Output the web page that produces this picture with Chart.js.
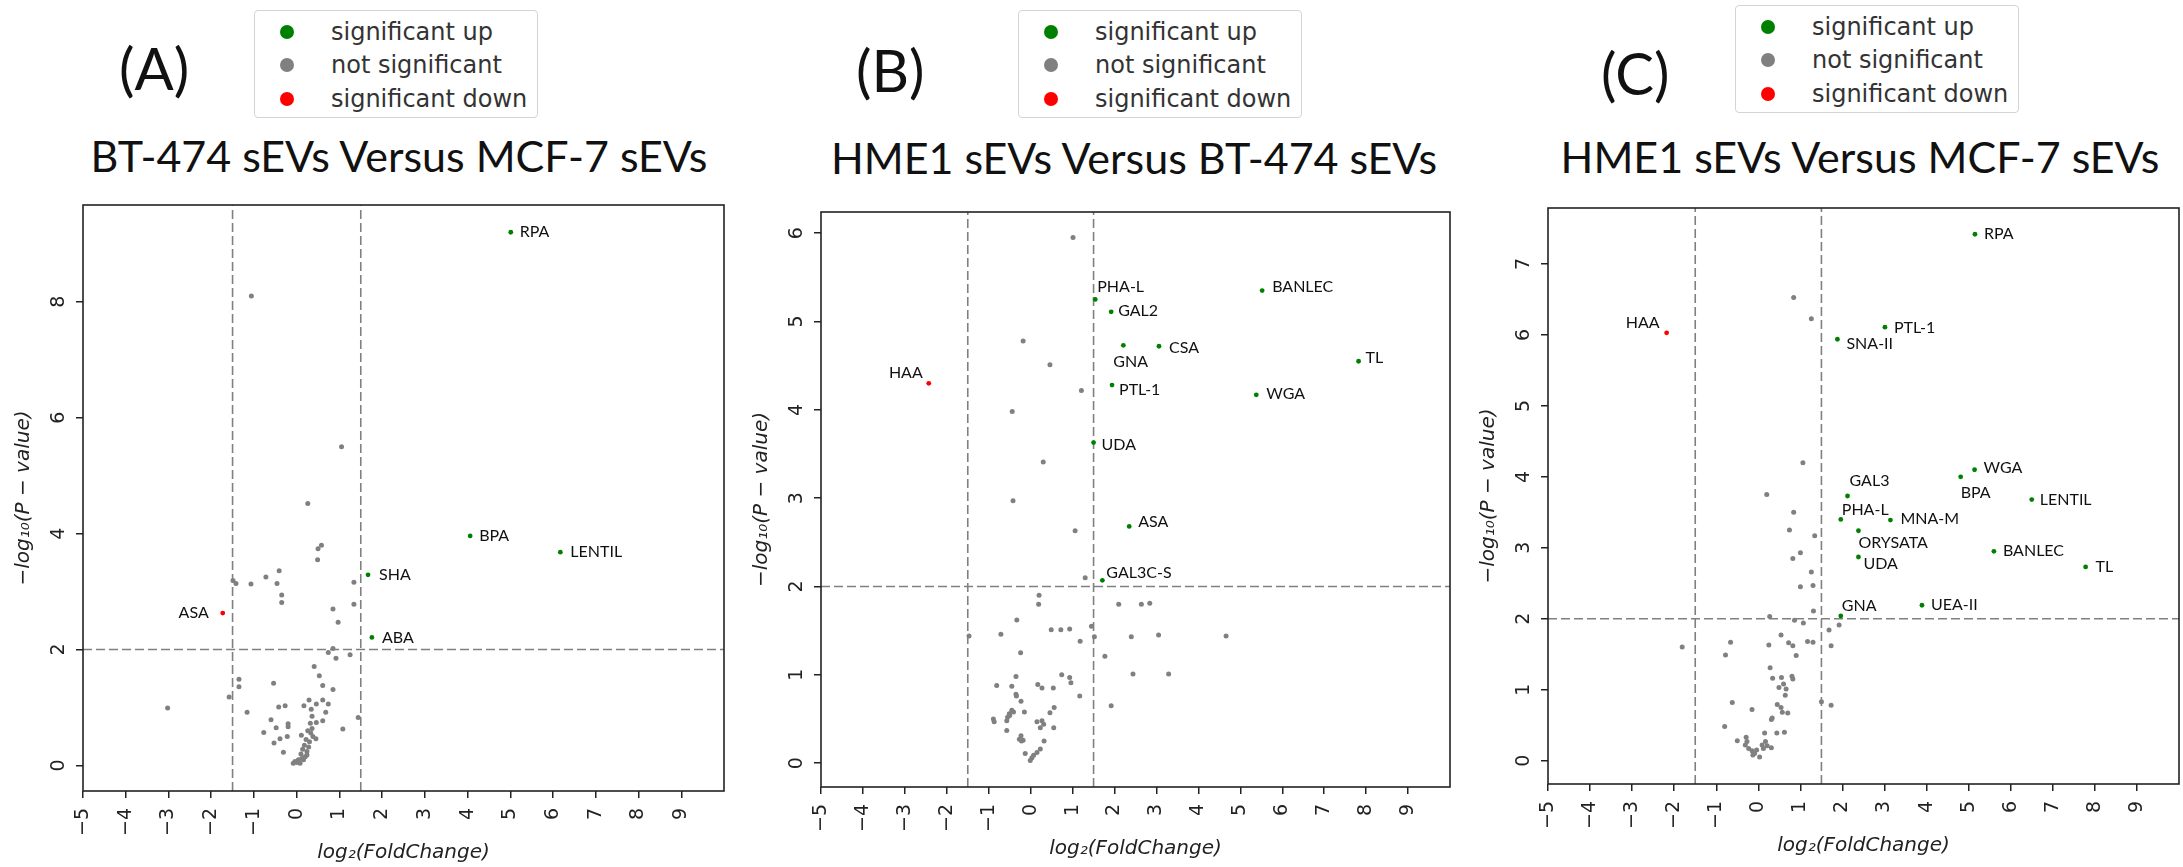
<!DOCTYPE html>
<html>
<head>
<meta charset="utf-8">
<script src="https://cdn.jsdelivr.net/npm/chart.js@4.4.0/dist/chart.umd.min.js"></script>
<style>
  body { margin: 0; background: #fff; width: 2183px; height: 867px; overflow: hidden; position: relative; font-family: Lato, sans-serif; }
  .tag { position: absolute; font-size: 58px; line-height: 1.2; color: #111; }
  .title { position: absolute; font-size: 43px; line-height: 1.2; color: #111; white-space: nowrap; transform: translateX(-50%); }
  .legend { position: absolute; width: 282px; height: 106px; border: 1px solid #d4d4d4; border-radius: 4px; background: #fff;
            font-family: 'DejaVu Sans', sans-serif; font-size: 24px; color: #333; }
  .legend .row { position: absolute; left: 0; right: 0; height: 0; }
  .legend .dot { position: absolute; left: 25px; top: -7px; width: 14px; height: 14px; border-radius: 50%; }
  .legend .txt { position: absolute; left: 76px; top: -14px; line-height: 28px; white-space: nowrap; }
  .wrap { position: absolute; }
</style>
</head>
<body>

<div class="tag" style="left:119px;top:33px">(A)</div>
<div class="tag" style="left:856px;top:35px">(B)</div>
<div class="tag" style="left:1601px;top:38px">(C)</div>

<div class="title" style="left:399px;top:130px">BT-474 sEVs Versus MCF-7 sEVs</div>
<div class="title" style="left:1134px;top:132px">HME1 sEVs Versus BT-474 sEVs</div>
<div class="title" style="left:1860px;top:131px">HME1 sEVs Versus MCF-7 sEVs</div>

<div class="legend" style="left:254px;top:10px"></div>
<div class="legend" style="left:1018px;top:10px"></div>
<div class="legend" style="left:1735px;top:5px"></div>

<div class="wrap" style="left:0px;top:195px"><canvas id="chartA" width="740" height="672"></canvas></div>
<div class="wrap" style="left:740px;top:195px"><canvas id="chartB" width="725" height="672"></canvas></div>
<div class="wrap" style="left:1470px;top:195px"><canvas id="chartC" width="713" height="672"></canvas></div>

<script>
// ---- données ----
const xTicks = [-5, -4, -3, -2, -1, 0, 1, 2, 3, 4, 5, 6, 7, 8, 9];
const fcCuts = [-1.5, 1.5];
const pCut = 2;
const legendLabels = ['significant up', 'not significant', 'significant down'];

// (A) BT-474 vs MCF-7
const aTicksY = [0, 2, 4, 6, 8];
const aUpNames = ['RPA', 'BPA', 'LENTIL', 'SHA', 'ABA'];
const aUpX = [5.01, 4.06, 6.17, 1.67, 1.76];
const aUpY = [9.20, 3.96, 3.68, 3.29, 2.21];
const aDownNames = ['ASA'];
const aDownX = [-1.73];
const aDownY = [2.63];
const aGrayX = [-1.06, 1.05, 0.26, 0.58, 0.50, 0.49, -0.41, -0.72, -0.46, -1.07, -1.49, -1.42, 1.34,
  -0.35, -0.35, 1.34, 0.85, 0.97, 0.85, 0.74, 0.92, 1.25, 0.41, 0.53, 0.61, 0.85,
  -1.35, -1.35, -0.54, -1.58, -3.02, -1.16, -0.42, -0.27, 0.29, 0.17, 0.46, 0.61, 0.74, 0.34, 0.68,
  -0.60, -0.48, -0.20, -0.20, -0.77, -0.53, -0.39, -0.22, -0.31, 0.11, 1.08, 1.44, 0.46, 0.61, 0.45,
  0.36, 0.32, 0.36, 0.33, 0.38, 0.30, 0.28, 0.24, 0.20, 0.12, 0.04, -0.04, 0.08, 0.16, 0.24,
  0.26, 0.22, 0.18, 0.10, 0.00, -0.08, 0.14];
const aGrayY = [8.10, 5.50, 4.52, 3.80, 3.74, 3.55, 3.36, 3.25, 3.14, 3.13, 3.19, 3.14, 3.16,
  2.94, 2.81, 2.78, 2.70, 2.47, 2.02, 1.95, 1.85, 1.91, 1.71, 1.55, 1.38, 1.31,
  1.49, 1.36, 1.42, 1.18, 0.99, 0.92, 1.01, 1.03, 1.13, 1.03, 1.06, 1.13, 1.06, 0.97, 0.92,
  0.79, 0.65, 0.72, 0.67, 0.57, 0.39, 0.46, 0.50, 0.23, 0.52, 0.63, 0.83, 0.74, 0.77, 0.46,
  0.85, 0.73, 0.64, 0.56, 0.50, 0.41, 0.32, 0.24, 0.15, 0.12, 0.10, 0.07, 0.04, 0.10, 0.18,
  0.60, 0.45, 0.35, 0.20, 0.05, 0.04, 0.28];

// (B) HME1 vs BT-474
const bTicksY = [0, 1, 2, 3, 4, 5, 6];
const bUpNames = ['PHA-L', 'GAL2', 'BANLEC', 'GNA', 'CSA', 'TL', 'PTL-1', 'WGA', 'UDA', 'ASA', 'GAL3C-S'];
const bUpX = [1.54, 1.92, 5.52, 2.21, 3.06, 7.82, 1.94, 5.38, 1.50, 2.35, 1.71];
const bUpY = [5.25, 5.11, 5.35, 4.73, 4.72, 4.55, 4.28, 4.17, 3.63, 2.68, 2.07];
const bDownNames = ['HAA'];
const bDownX = [-2.43];
const bDownY = [4.30];
const bGrayX = [1.01, -0.18, 0.46, 1.21, -0.44, 0.30, -0.42, 1.06,
  1.30, 0.20, 0.19, 2.10, 2.64, 2.84, -0.33, -0.71, -1.47, 0.49, 0.72, 0.93, 1.45, 1.52, 1.18, 2.40, 3.05, 4.66,
  -0.24, 1.77, 0.74, 0.93, 0.96, 2.44, 3.29, -0.35, -0.81, -0.45, -0.35, -0.34, 0.17, 0.27, 0.54, -0.23, 1.17, 1.92,
  0.56, 0.46, -0.15, -0.45, -0.41, -0.51, -0.55, -0.57, -0.50, -0.89, -0.87, 0.15, 0.27, 0.23, 0.31, 0.55, -0.57,
  -0.23, -0.27, -0.18, -0.22, 0.32, 0.23, 0.15, 0.07, -0.01, -0.13, 0.03];
const bGrayY = [5.95, 4.78, 4.51, 4.22, 3.98, 3.41, 2.97, 2.63,
  2.10, 1.90, 1.80, 1.80, 1.80, 1.81, 1.62, 1.46, 1.44, 1.51, 1.51, 1.52, 1.55, 1.43, 1.38, 1.43, 1.45, 1.44,
  1.25, 1.21, 1.00, 0.97, 0.91, 1.01, 1.01, 0.98, 0.88, 0.87, 0.78, 0.76, 0.89, 0.85, 0.85, 0.70, 0.76, 0.65,
  0.63, 0.57, 0.58, 0.60, 0.58, 0.56, 0.52, 0.48, 0.54, 0.50, 0.47, 0.47, 0.48, 0.40, 0.44, 0.40, 0.37,
  0.31, 0.27, 0.26, 0.25, 0.25, 0.16, 0.12, 0.09, 0.03, 0.11, 0.06];

// (C) HME1 vs MCF-7
const cTicksY = [0, 1, 2, 3, 4, 5, 6, 7];
const cUpNames = ['RPA', 'PTL-1', 'SNA-II', 'WGA', 'BPA', 'GAL3', 'LENTIL', 'PHA-L', 'MNA-M', 'ORYSATA', 'BANLEC', 'UDA', 'TL', 'UEA-II', 'GNA'];
const cUpX = [5.15, 3.01, 1.88, 5.14, 4.81, 2.12, 6.50, 1.96, 3.14, 2.38, 5.60, 2.38, 7.78, 3.89, 1.96];
const cUpY = [7.42, 6.11, 5.94, 4.10, 4.00, 3.73, 3.68, 3.40, 3.39, 3.24, 2.95, 2.87, 2.73, 2.19, 2.04];
const cDownNames = ['HAA'];
const cDownX = [-2.18];
const cDownY = [6.03];
const cGrayX = [0.84, 1.26, 1.06, 0.20, 0.84, 0.74, 1.34, 1.00, 0.82, 1.26, 1.00, 1.30, 1.31,
  0.27, 0.86, 1.07, 1.68, 1.92, 0.54, -0.66, -1.81, 0.25, 0.72, 0.82, 1.17, 1.30, 1.73,
  -0.78, 0.90, 0.28, 0.34, 0.55, 0.60, 0.66, 0.82, 0.80, 0.49, 0.64,
  -0.62, 1.50, 1.73, 0.45, 0.54, 0.57, 0.70, -0.15, 0.33, 0.31,
  -0.80, 0.15, 0.44, 0.62, -0.50, -0.29, -0.27, -0.31, -0.23, -0.15, -0.09, -0.04, 0.03, -0.13,
  0.09, 0.17, 0.21, 0.31, 0.12];
const cGrayY = [6.53, 6.23, 4.20, 3.75, 3.50, 3.25, 3.17, 2.93, 2.85, 2.66, 2.45, 2.47, 2.11,
  2.03, 1.98, 1.94, 1.84, 1.91, 1.77, 1.67, 1.60, 1.63, 1.66, 1.62, 1.68, 1.67, 1.62,
  1.49, 1.48, 1.31, 1.16, 1.17, 1.08, 1.01, 1.15, 1.19, 1.03, 0.92,
  0.82, 0.83, 0.78, 0.79, 0.75, 0.68, 0.67, 0.72, 0.60, 0.58,
  0.48, 0.39, 0.39, 0.40, 0.28, 0.33, 0.27, 0.22, 0.17, 0.14, 0.10, 0.15, 0.05, 0.08,
  0.22, 0.27, 0.21, 0.18, 0.17];

// ---- mise en forme ----
const GREEN = '#008000', GREY = '#808080', RED = '#ff0000';

// décalage des étiquettes (px) : [dx, dy, alignement]
const placeA = { RPA: [9, 0], BPA: [9, 0], LENTIL: [10, 0], SHA: [11, 0], ABA: [10, 0], ASA: [-14, 0, 'right'] };
const placeB = { 'PHA-L': [2, -13], GAL2: [7, -1], BANLEC: [10, -4], GNA: [-10, 16], CSA: [10, 2], TL: [7, -3],
  HAA: [-6, -11, 'right'], 'PTL-1': [7, 5], WGA: [10, -1], UDA: [8, 2], ASA: [9, -5], 'GAL3C-S': [4, -7] };
const placeC = { RPA: [9, 0], HAA: [-7, -10, 'right'], 'PTL-1': [9, 1], 'SNA-II': [9, 5], WGA: [9, -2], BPA: [0, 16],
  GAL3: [2, -15], LENTIL: [8, 0], 'PHA-L': [1, -10], 'MNA-M': [10, -1], ORYSATA: [0, 12], BANLEC: [9, 0],
  UDA: [5, 7], TL: [10, 0], 'UEA-II': [9, 0], GNA: [1, -10] };

const toPts = (xs, ys) => xs.map((x, i) => ({ x: x, y: ys[i] }));
const fmt = v => v < 0 ? '\u2212' + Math.abs(v) : String(v);

// légendes
const legendColors = [GREEN, GREY, RED];
document.querySelectorAll('.legend').forEach(box => {
  [21, 54, 88].forEach((top, i) => {
    const row = document.createElement('div');
    row.className = 'row';
    row.style.top = top + 'px';
    row.innerHTML = '<span class="dot" style="background:' + legendColors[i] + '"></span><span class="txt">' + legendLabels[i] + '</span>';
    box.appendChild(row);
  });
});

function volcano(id, p) {
  const decor = {
    id: 'decor',
    afterDraw(chart) {
      const ctx = chart.ctx, a = chart.chartArea;
      const xs = chart.scales.x, ys = chart.scales.y;
      ctx.save();
      // cadre
      ctx.strokeStyle = '#222';
      ctx.lineWidth = 1.6;
      ctx.strokeRect(a.left, a.top, a.right - a.left, a.bottom - a.top);
      // graduations
      ctx.fillStyle = '#222';
      ctx.font = '19px "DejaVu Sans"';
      xTicks.forEach(v => {
        ctx.save();
        ctx.translate(xs.getPixelForValue(v), a.bottom + 17);
        ctx.rotate(-Math.PI / 2);
        ctx.textAlign = 'right';
        ctx.textBaseline = 'middle';
        ctx.fillText(fmt(v), 0, 0);
        ctx.restore();
      });
      p.ticksY.forEach(v => {
        ctx.save();
        ctx.translate(a.left - 19, ys.getPixelForValue(v));
        ctx.rotate(-Math.PI / 2);
        ctx.textAlign = 'center';
        ctx.textBaseline = 'alphabetic';
        ctx.fillText(fmt(v), 0, 0);
        ctx.restore();
      });
      // titres d'axes
      ctx.font = 'italic 20px "DejaVu Sans"';
      ctx.textAlign = 'center';
      ctx.textBaseline = 'middle';
      ctx.fillText('log\u2082(FoldChange)', (a.left + a.right) / 2, a.bottom + 62);
      ctx.save();
      ctx.translate(a.left - 59, (a.top + a.bottom) / 2);
      ctx.rotate(-Math.PI / 2);
      ctx.fillText('\u2212log\u2081\u2080(P \u2212 value)', 0, 0);
      ctx.restore();
      // étiquettes des lectines
      ctx.font = '16px Lato';
      ctx.fillStyle = '#111';
      ctx.textBaseline = 'middle';
      const label = (names, xv, yv) => names.forEach((n, i) => {
        const pl = p.place[n] || [9, 0];
        ctx.textAlign = pl[2] || 'left';
        ctx.fillText(n, xs.getPixelForValue(xv[i]) + pl[0], ys.getPixelForValue(yv[i]) + pl[1]);
      });
      label(p.upNames, p.upX, p.upY);
      label(p.downNames, p.downX, p.downY);
      ctx.restore();
    }
  };

  const cut = (pts) => ({
    data: pts, showLine: true, borderColor: GREY, borderWidth: 1.6, borderDash: [9, 4],
    pointRadius: 0, fill: false
  });

  new Chart(document.getElementById(id), {
    type: 'scatter',
    data: {
      datasets: [
        { data: toPts(p.upX, p.upY), backgroundColor: GREEN, pointRadius: 2.4, borderWidth: 0 },
        { data: toPts(p.downX, p.downY), backgroundColor: RED, pointRadius: 2.4, borderWidth: 0 },
        { data: toPts(p.grayX, p.grayY), backgroundColor: GREY, pointRadius: 2.5, borderWidth: 0 },
        cut([{ x: fcCuts[0], y: p.yMin }, { x: fcCuts[0], y: p.yMax }]),
        cut([{ x: fcCuts[1], y: p.yMin }, { x: fcCuts[1], y: p.yMax }]),
        cut([{ x: -5, y: pCut }, { x: 10, y: pCut }])
      ]
    },
    options: {
      responsive: false,
      animation: false,
      devicePixelRatio: 1,
      layout: { padding: { top: p.padTop, right: p.padRight, left: 0, bottom: 0 } },
      plugins: { legend: { display: false }, tooltip: { enabled: false } },
      scales: {
        x: {
          type: 'linear', min: -5, max: 10,
          afterBuildTicks: s => { s.ticks = xTicks.map(v => ({ value: v })); },
          afterFit: s => { s.height = p.xAxisH; s.paddingLeft = s.paddingRight = 0; },
          ticks: { display: false },
          grid: { drawOnChartArea: false, drawTicks: true, tickLength: 7, color: '#222', lineWidth: 1.5 },
          border: { display: false }
        },
        y: {
          type: 'linear', min: p.yMin, max: p.yMax,
          afterBuildTicks: s => { s.ticks = p.ticksY.map(v => ({ value: v })); },
          afterFit: s => { s.width = p.yAxisW; s.paddingTop = s.paddingBottom = 0; },
          ticks: { display: false },
          grid: { drawOnChartArea: false, drawTicks: true, tickLength: 7, color: '#222', lineWidth: 1.5 },
          border: { display: false }
        }
      }
    },
    plugins: [decor]
  });
}

volcano('chartA', {
  upNames: aUpNames, upX: aUpX, upY: aUpY, downNames: aDownNames, downX: aDownX, downY: aDownY,
  grayX: aGrayX, grayY: aGrayY, ticksY: aTicksY, yMin: -0.44, yMax: 9.67, place: placeA,
  yAxisW: 83, xAxisH: 76, padTop: 10, padRight: 16
});
volcano('chartB', {
  upNames: bUpNames, upX: bUpX, upY: bUpY, downNames: bDownNames, downX: bDownX, downY: bDownY,
  grayX: bGrayX, grayY: bGrayY, ticksY: bTicksY, yMin: -0.27, yMax: 6.24, place: placeB,
  yAxisW: 81, xAxisH: 80, padTop: 17, padRight: 15
});
volcano('chartC', {
  upNames: cUpNames, upX: cUpX, upY: cUpY, downNames: cDownNames, downX: cDownX, downY: cDownY,
  grayX: cGrayX, grayY: cGrayY, ticksY: cTicksY, yMin: -0.33, yMax: 7.79, place: placeC,
  yAxisW: 78, xAxisH: 83, padTop: 13, padRight: 4
});
</script>
</body>
</html>
